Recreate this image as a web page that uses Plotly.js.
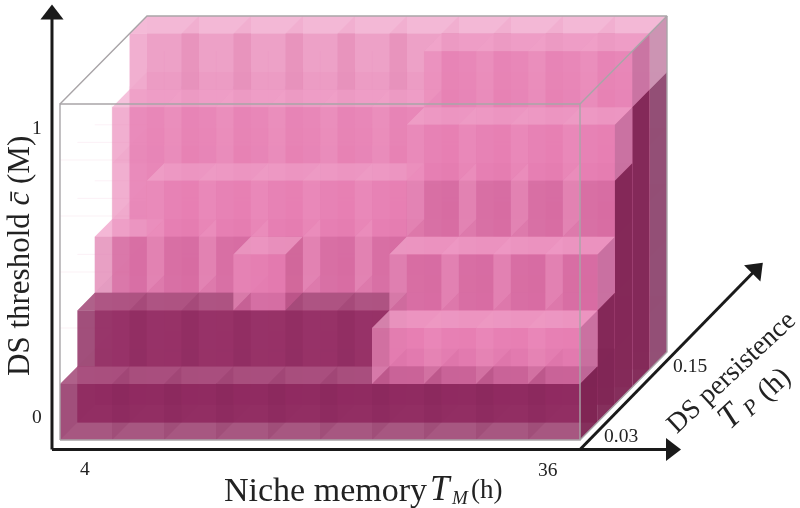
<!DOCTYPE html>
<html><head><meta charset="utf-8">
<script src="https://cdn.plot.ly/plotly-3.0.1.min.js"></script>
<style>html,body{margin:0;padding:0;background:#fff}#c{width:800px;height:508px;filter:blur(0.45px)}</style>
</head><body><div id="c"></div>
<script>
// Column height (voxels occupied) per niche-memory column, one array per DS-persistence depth
var heightD0=[1,1,1,1,1,1,2,2,2,2];
var heightD1=[2,2,2,3,2,2,3,3,3,3];
var heightD2=[3,4,4,4,4,4,5,5,5,5];
var heightD3=[5,5,5,5,5,5,6,6,6,6];
var heightD4=[6,6,6,6,6,6,6,6,6,6];
// Number of dark (lower) voxels per column
var darkD0=[1,1,1,1,1,1,1,1,1,1];
var darkD1=[2,2,2,2,2,2,1,1,1,1];
var darkD2=[0,0,0,0,0,0,0,0,0,0];
var darkD3=[0,0,0,0,0,0,0,0,0,0];
var darkD4=[0,0,0,0,0,0,0,0,0,0];
// Level of the deeper-pink voxel per column (-1: none)
var midD0=[-1,-1,-1,-1,-1,-1,-1,-1,-1,-1];
var midD1=[-1,-1,-1,-1,-1,-1,2,2,2,2];
var midD2=[2,2,2,2,2,2,3,3,3,3];
var midD3=[-1,-1,-1,-1,-1,-1,-1,-1,-1,-1];
var midD4=[-1,-1,-1,-1,-1,-1,-1,-1,-1,-1];
// Dark voxels seen on the right-hand wall per depth
var wallDark=[1,2,4,5,5];
var tickX=['4','36'], tickY=['0','1'], tickP=['0.03','0.15'];

var heights=[heightD0,heightD1,heightD2,heightD3,heightD4];
var darks=[darkD0,darkD1,darkD2,darkD3,darkD4];
var mids=[midD0,midD1,midD2,midD3,midD4];
var NC=10,ND=5,NZ=6;
var dx=17.4/52,dy=17.6/56;
function X(c,d){return c+d*dx;}
function Y(z,d){return z+d*dy;}

var style={
 pink:{back:['#e66fa9',.30],bottom:['#e26ca6',.12],right:['#c2608f',.4],top:['#f0a5cc',.6],front:['#e781b5',.62],left:['#f3a9cf',.2]},
 mid:{back:['#d9609c',.30],bottom:['#d9609c',.12],right:['#c2608f',.4],top:['#f0a5cc',.6],front:['#d0659c',.62],left:['#f0a0c8',.42]},
 dark:{back:['#8f2a60',.6],bottom:['#8f2a60',.05],right:['#7a1f4e',.6],top:['#ad5583',.85],front:['#8f2a60',.78],left:['#7a1f4e',.16]},
 wallPink:{right:['#c4709f',.85]},
 wallPinkBack:{right:['#c990b0',.95]},
 wallDark:{right:['#7e2453',.95]},
 wallDarkBack:{right:['#8f4a72',.97]},
 topBack:{top:['#f2b3d3',.85]}
};
var traces=[];
function hexa(h,a){var n=parseInt(h.slice(1),16);return 'rgba('+(n>>16)+','+((n>>8)&255)+','+(n&255)+','+a+')';}
function poly(b,pts){pts.forEach(function(p){b.x.push(X(p[0],p[1]));b.y.push(Y(p[2],p[1]));});
 b.x.push(X(pts[0][0],pts[0][1]));b.y.push(Y(pts[0][2],pts[0][1]));b.x.push(null);b.y.push(null);}
function addTrace(b,s){if(!b.x.length)return;traces.push({type:'scatter',mode:'lines',x:b.x,y:b.y,fill:'toself',
 fillcolor:hexa(s[0],s[1]),line:{width:0},hoverinfo:'skip',showlegend:false});}

// faint empty cells
var faint={x:[],y:[]};
for(var d=ND-1;d>=0;d--){for(var c=0;c<NC;c++){for(var z=heights[d][c];z<NZ;z++){
  faint.x.push(X(c,d),X(c+1,d),X(c+1,d),null);faint.y.push(Y(z,d),Y(z,d),Y(z+1,d),null);}}}
traces.push({type:'scatter',mode:'lines',x:faint.x,y:faint.y,line:{color:'rgba(240,190,215,0.22)',width:1},hoverinfo:'skip',showlegend:false});

function kindOf(d,c,z,face){
 if(face==='right'&&c===NC-1){
  var dk=z<wallDark[d];
  if(d===ND-1) return dk?'wallDarkBack':'wallPinkBack';
  return dk?'wallDark':'wallPink';
 }
 if(face==='top'&&d===ND-1) return 'topBack';
 if(z<darks[d][c]) return 'dark';
 if(z===mids[d][c]) return 'mid';
 return 'pink';
}
var kinds=['pink','mid','dark','wallPink','wallPinkBack','wallDark','wallDarkBack','topBack'];
for(var d=ND-1;d>=0;d--){
 ['back','bottom','right','top','front','left'].forEach(function(face){
  kinds.forEach(function(kind){
   if(!style[kind][face]) return;
   var b={x:[],y:[]};
   for(var c=0;c<NC;c++){var h=heights[d][c];
    for(var z=0;z<h;z++){
     if(kindOf(d,c,z,face)!==kind) continue;
     if(face==='back') poly(b,[[c,d+1,z],[c+1,d+1,z],[c+1,d+1,z+1],[c,d+1,z+1]]);
     if(face==='front') poly(b,[[c,d,z],[c+1,d,z],[c+1,d,z+1],[c,d,z+1]]);
     if(face==='bottom') poly(b,[[c,d,z],[c+1,d,z],[c+1,d+1,z],[c,d+1,z]]);
     if(face==='top'&&z===h-1) poly(b,[[c,d,z+1],[c+1,d,z+1],[c+1,d+1,z+1],[c,d+1,z+1]]);
     if(face==='left') poly(b,[[c,d,z],[c,d+1,z],[c,d+1,z+1],[c,d,z+1]]);
     if(face==='right'&&(c===NC-1||d===ND-1||z>=heights[d][c+1])) poly(b,[[c+1,d,z],[c+1,d+1,z],[c+1,d+1,z+1],[c+1,d,z+1]]);
    }
   }
   addTrace(b,style[kind][face]);
  });
 });
}

// wire box
var bx=[[0,0,0],[NC,0,0],[NC,0,NZ],[0,0,NZ],[0,0,0],null,[0,0,NZ],[0,ND,NZ],[NC,ND,NZ],[NC,0,NZ],null,[NC,ND,NZ],[NC,ND,0],[NC,0,0]];
traces.push({type:'scatter',mode:'lines',x:bx.map(function(p){return p?X(p[0],p[1]):null;}),y:bx.map(function(p){return p?Y(p[2],p[1]):null;}),
 line:{color:'#a9a5a8',width:1.4},hoverinfo:'skip',showlegend:false});

// axes arrows
var ox=-0.154,oy=-0.17;
function arrow(xs,ys,ang){
 traces.push({type:'scatter',mode:'lines',x:xs,y:ys,line:{color:'#1a1a1a',width:3},hoverinfo:'skip',showlegend:false});
 traces.push({type:'scatter',mode:'markers',x:[xs[1]],y:[ys[1]],marker:{symbol:'triangle-up',size:20,color:'#1a1a1a',angle:ang},hoverinfo:'skip',showlegend:false});
}
arrow([ox,ox],[oy,7.6],0);
arrow([ox,11.75],[oy,oy],90);
arrow([10,13.38],[oy,3.04],45);

var F='"Liberation Serif",serif';
function note(text,x,y,size,rot){return {text:text,x:x,y:y,xref:'x',yref:'y',showarrow:false,textangle:rot||0,
 font:{family:F,size:size,color:'#222'},xanchor:'center',yanchor:'middle'};}
function px(p){return (p-60)/52;} function py(p){return (440-p)/56;}
var ann=[
 note(tickX[0],px(85),py(468),19.5), note(tickX[1],px(548),py(469),19.5),
 note(tickY[0],px(37),py(416),19.5), note(tickY[1],px(37),py(127),19.5),
 note(tickP[0],px(621),py(435),19.5), note(tickP[1],px(690),py(365),19.5),
 note('DS threshold <i>c\u0304</i> (M)',px(18),py(256),31,-90),
 note('Niche memory',px(325),py(489),34),
 note('<i>T</i>',px(441),py(488),35),
 note('<i>M</i>',px(460),py(497),19),
 note('(h)',px(486),py(489),27),
 note('DS persistence',px(730),py(371),27.5,-43),
 note('<i>T</i>',px(729),py(415),34,-43),
 note('<i>P</i>',px(750),py(407),22,-43),
 note('(h)',px(773),py(383),29,-43)
];
Plotly.newPlot('c',traces,{width:800,height:508,margin:{l:0,r:0,t:0,b:0},paper_bgcolor:'#fff',plot_bgcolor:'#fff',showlegend:false,
 xaxis:{range:[-60/52,740/52],visible:false,fixedrange:true},
 yaxis:{range:[-68/56,440/56],visible:false,fixedrange:true},annotations:ann},{displayModeBar:false,staticPlot:true});
</script></body></html>
